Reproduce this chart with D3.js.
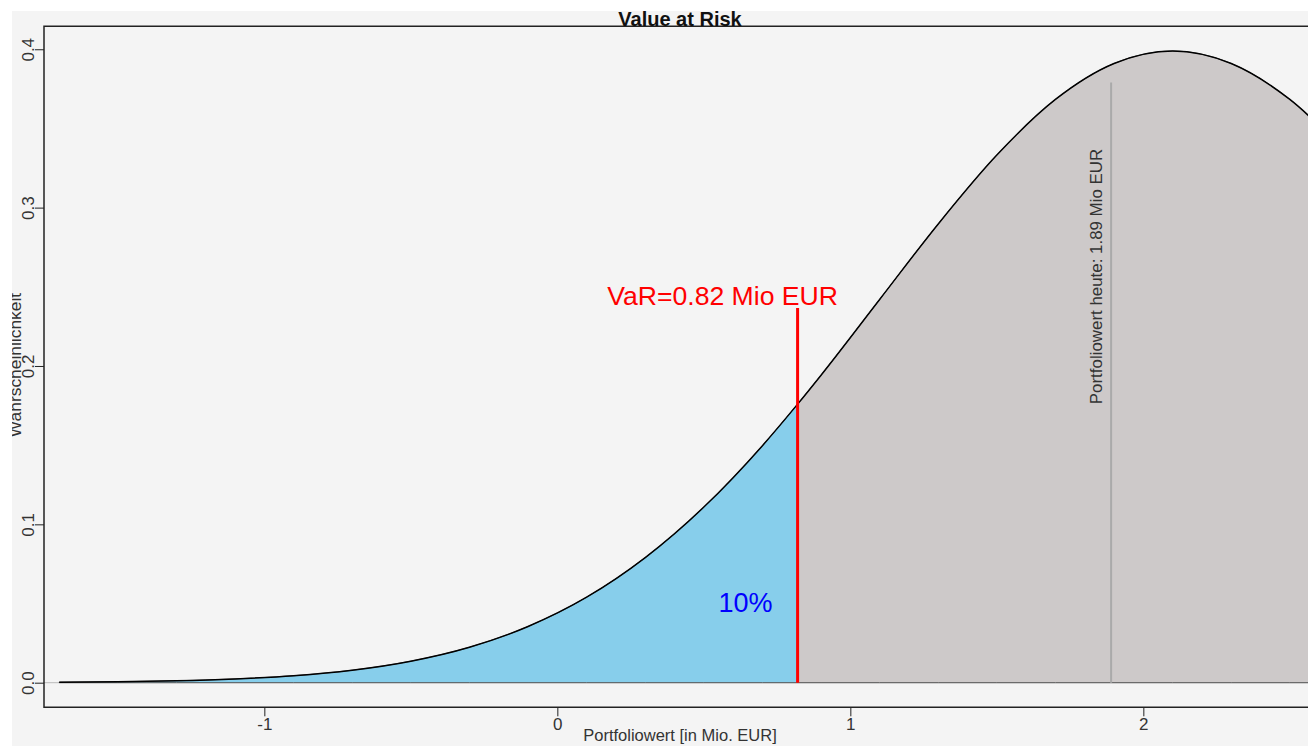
<!DOCTYPE html>
<html>
<head>
<meta charset="utf-8">
<script src="https://cdn.jsdelivr.net/npm/d3@7"></script>
<style>
  body { margin: 0; background: #fff; }
  text { font-family: "Liberation Sans", Arial, sans-serif; }
</style>
</head>
<body>
<svg width="1308" height="746"></svg>
<script>
// density curve
var xs   = [-1.7, -1.5, -1.3, -1.1, -0.9, -0.7, -0.5, -0.3, -0.1, 0.1, 0.3, 0.5, 0.7, 0.82, 0.9, 1.1, 1.3, 1.5, 1.7, 1.9, 2.1, 2.3, 2.5, 2.7];
var dens = [0.0003, 0.0006, 0.0012, 0.0024, 0.0044, 0.0079, 0.0136, 0.0224, 0.0355, 0.0540, 0.0790, 0.1109, 0.1497, 0.1759, 0.1942, 0.2420, 0.2897, 0.3332, 0.3683, 0.3910, 0.3989, 0.3910, 0.3683, 0.3332];

var xTicks = [-1, 0, 1, 2];
var yTicks = [0, 0.1, 0.2, 0.3, 0.4];
var yTickLabels = ["0.0", "0.1", "0.2", "0.3", "0.4"];

var varValue = 0.82, varTop = 0.2366;
var todayValue = 1.89, todayTop = 0.379;
var varLabel = "VaR=0.82 Mio EUR";
var todayLabel = "Portfoliowert heute: 1.89 Mio EUR";
var tailLabel = "10%";

var data = xs.map(function(x, i) { return {x: x, y: dens[i]}; });

var svg = d3.select("svg"),
    width = +svg.attr("width"),
    height = +svg.attr("height");

var plot = {left: 44, top: 26.3, bottom: 707.3, right: width};

var x = d3.scaleLinear()
    .domain([-1.752, 2.562])
    .range([plot.left, plot.right]);

var y = d3.scaleLinear()
    .domain([-0.01554, 0.4145])
    .range([plot.bottom, plot.top]);

// background
svg.append("rect")
    .attr("x", 12).attr("y", 11)
    .attr("width", width - 12).attr("height", height - 11)
    .attr("fill", "#f4f4f4");

svg.append("clipPath").attr("id", "clip")
  .append("rect")
    .attr("x", plot.left).attr("y", plot.top)
    .attr("width", plot.right - plot.left).attr("height", plot.bottom - plot.top);

var g = svg.append("g").attr("clip-path", "url(#clip)");

g.append("line")
    .attr("x1", plot.left).attr("x2", plot.right)
    .attr("y1", y(0)).attr("y2", y(0))
    .attr("stroke", "#bbb");

var area = d3.area()
    .curve(d3.curveMonotoneX)
    .x(function(d) { return x(d.x); })
    .y0(y(0))
    .y1(function(d) { return y(d.y); });

g.append("path")
    .datum(data.filter(function(d) { return d.x <= varValue; }))
    .attr("d", area)
    .attr("fill", "#87ceeb")
    .attr("stroke", "#555")
    .attr("stroke-width", 1);

g.append("path")
    .datum(data.filter(function(d) { return d.x >= varValue; }))
    .attr("d", area)
    .attr("fill", "#cdc9c9")
    .attr("stroke", "#555")
    .attr("stroke-width", 1);

g.append("path")
    .datum(data)
    .attr("d", d3.line().curve(d3.curveMonotoneX)
      .x(function(d) { return x(d.x); })
      .y(function(d) { return y(d.y); }))
    .attr("fill", "none")
    .attr("stroke", "#000")
    .attr("stroke-width", 1.5);

// today's value
g.append("line")
    .attr("x1", x(todayValue)).attr("x2", x(todayValue))
    .attr("y1", y(0)).attr("y2", y(todayTop))
    .attr("stroke", "#aaa")
    .attr("stroke-width", 2);

svg.append("text")
    .attr("transform", "translate(" + (x(todayValue) - 9) + "," + y(0.2565) + ") rotate(-90)")
    .attr("text-anchor", "middle")
    .attr("font-size", "16.9px")
    .attr("fill", "#333")
    .text(todayLabel);

// VaR line
g.append("line")
    .attr("x1", x(varValue)).attr("x2", x(varValue))
    .attr("y1", y(0)).attr("y2", y(varTop))
    .attr("stroke", "#ff0000")
    .attr("stroke-width", 3);

svg.append("text")
    .attr("x", x(varValue) - 75).attr("y", 305)
    .attr("text-anchor", "middle")
    .attr("font-size", "26.6px")
    .attr("fill", "#ff0000")
    .text(varLabel);

svg.append("text")
    .attr("x", x(varValue) - 52).attr("y", 612)
    .attr("text-anchor", "middle")
    .attr("font-size", "27px")
    .attr("fill", "#0000ff")
    .text(tailLabel);

// box
svg.append("path")
    .attr("d", "M" + plot.right + "," + plot.top + "H" + plot.left + "V" + plot.bottom + "H" + plot.right)
    .attr("fill", "none")
    .attr("stroke", "#222")
    .attr("stroke-width", 1.5);

// axes
var xAxis = svg.append("g")
    .attr("transform", "translate(0," + plot.bottom + ")")
    .call(d3.axisBottom(x).tickValues(xTicks).tickSize(9).tickPadding(2).tickFormat(d3.format("d")));
xAxis.select(".domain").remove();
xAxis.selectAll("line").attr("stroke", "#222");
xAxis.selectAll("text")
    .attr("font-family", "Liberation Sans, Arial, sans-serif")
    .attr("font-size", "17px")
    .attr("fill", "#333")
    .text(function(d) { return d < 0 ? "-" + Math.abs(d) : d; });

var yAxis = svg.append("g")
    .attr("transform", "translate(" + plot.left + ",0)")
    .call(d3.axisLeft(y).tickValues(yTicks).tickSize(9).tickFormat(function(d, i) { return yTickLabels[i]; }));
yAxis.select(".domain").remove();
yAxis.selectAll("line").attr("stroke", "#222");
yAxis.selectAll("text")
    .attr("font-family", "Liberation Sans, Arial, sans-serif")
    .attr("font-size", "17px")
    .attr("fill", "#333")
    .attr("x", null).attr("dy", null)
    .attr("text-anchor", "middle")
    .attr("transform", "translate(-10,0) rotate(-90)");

// titles
svg.append("text")
    .attr("x", 680).attr("y", 741)
    .attr("text-anchor", "middle")
    .attr("font-size", "16.5px")
    .attr("fill", "#333")
    .text("Portfoliowert [in Mio. EUR]");

svg.append("text")
    .attr("transform", "translate(21,365) rotate(-90)")
    .attr("text-anchor", "middle")
    .attr("font-size", "17.4px")
    .attr("fill", "#333")
    .text("Wahrscheinlichkeit");

svg.append("text")
    .attr("x", 680).attr("y", 26)
    .attr("text-anchor", "middle")
    .attr("font-size", "20px")
    .attr("font-weight", "bold")
    .attr("fill", "#111")
    .text("Value at Risk");

// white outer margin clips title and y label
svg.append("rect").attr("x", 0).attr("y", 0).attr("width", width).attr("height", 11).attr("fill", "#fff");
svg.append("rect").attr("x", 0).attr("y", 0).attr("width", 12).attr("height", height).attr("fill", "#fff");
</script>
</body>
</html>
